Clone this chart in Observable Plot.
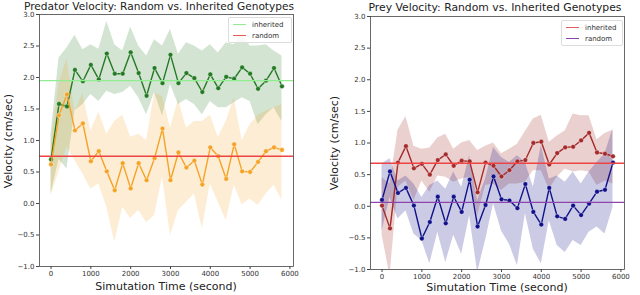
<!DOCTYPE html>
<html><head><meta charset="utf-8">
<script src="https://cdn.jsdelivr.net/npm/d3@7"></script>
<script src="https://cdn.jsdelivr.net/npm/@observablehq/plot@0.6"></script>
<style>
body{margin:0;background:#fff;font-family:"DejaVu Sans",sans-serif;}
#root{position:relative;width:640px;height:295px;overflow:hidden;}
.abs{position:absolute;white-space:nowrap;color:#222;line-height:1;}
.leg{position:absolute;border:1px solid #ddd;border-radius:2px;background:rgba(255,255,255,0.85);font-size:7px;color:#333;}
.leg div{display:flex;align-items:center;height:11px;}
.leg span.l{display:inline-block;width:13px;height:0;border-top:1.3px solid;margin:0 6px 0 4px;}
</style></head>
<body><div id="root"></div>
<script>
const time = [0,200,400,600,800,1000,1200,1400,1600,1800,2000,2200,2400,2600,2800,3000,3200,3400,3600,3800,4000,4200,4400,4600,4800,5000,5200,5400,5600,5800];

// Predator - inherited
const predInh = [0.70,1.58,1.54,2.12,1.94,2.20,1.97,2.38,2.06,2.06,2.40,2.07,1.71,2.15,1.91,2.36,1.91,2.07,1.99,1.77,2.05,1.83,2.01,1.98,2.16,2.06,1.82,1.95,2.15,1.86];
const predInhHi = [1.10,2.31,2.47,2.67,2.44,2.52,2.45,2.89,2.52,2.42,2.80,2.50,2.34,2.60,2.50,2.76,2.37,2.55,2.50,2.42,2.52,2.39,2.55,2.52,2.70,2.50,2.50,2.52,2.42,2.34];
const predInhLo = [0.15,0.70,0.55,1.47,1.57,1.73,1.62,1.78,1.73,1.76,1.86,1.68,1.41,1.76,1.39,1.89,1.57,1.65,1.57,1.41,1.62,1.52,1.52,1.60,1.68,1.62,1.25,1.41,1.52,1.30];
// Predator - random
const predRnd = [0.62,1.40,1.73,1.16,1.27,0.67,0.83,0.51,0.21,0.64,0.24,0.64,0.37,0.72,1.19,0.37,0.81,0.57,0.68,0.30,0.89,0.75,0.39,0.94,0.51,0.50,0.66,0.83,0.89,0.85];
const predRndHi = [0.95,1.90,2.30,1.45,1.75,1.15,1.45,1.10,1.30,1.40,1.05,1.10,1.00,1.75,1.70,1.20,1.65,1.20,1.30,1.30,1.40,1.05,1.30,1.68,1.00,1.25,1.40,1.47,1.52,1.57];
const predRndLo = [0.13,0.50,0.90,0.68,0.47,0.23,0.31,-0.06,-0.61,-0.06,-0.24,-0.11,-0.30,-0.19,0.42,-0.51,-0.11,0.02,0.15,-0.40,0.31,0.02,-0.27,0.29,-0.02,0.07,-0.03,0.15,0.29,0.05];
const predMeanInh = 1.95, predMeanRnd = 0.75;

// Prey - inherited
const preyInh = [0.01,-0.35,0.69,0.95,0.60,0.67,0.50,0.73,0.82,0.64,0.72,0.71,0.22,0.69,0.64,0.47,0.57,0.71,0.73,1.00,1.02,0.66,0.84,0.93,0.94,1.04,1.16,0.85,0.83,0.79];
const preyInhHi = [0.45,0.35,1.20,1.42,0.95,0.90,0.92,1.08,1.14,0.90,1.00,1.04,0.88,0.95,1.00,0.83,0.90,0.98,1.18,1.38,1.44,1.01,1.11,1.19,1.46,1.43,1.43,1.05,1.15,1.20];
const preyInhLo = [-0.45,-1.10,0.30,0.40,0.09,0.40,0.22,0.48,0.46,0.38,0.43,0.46,-0.15,0.33,0.35,0.25,0.35,0.35,0.38,0.56,0.56,0.27,0.46,0.59,0.54,0.56,0.54,0.33,0.40,0.35];
// Prey - random
const preyRnd = [0.10,0.55,0.21,0.29,0.01,-0.51,-0.25,0.15,-0.27,0.15,-0.09,0.42,-0.32,0.02,0.47,0.11,0.09,-0.03,0.35,-0.09,-0.29,0.29,-0.16,-0.20,0.01,-0.14,0.04,0.23,0.26,0.69];
const preyRndHi = [0.67,0.75,0.40,0.48,0.35,0.14,0.33,0.40,0.27,0.54,0.30,0.80,0.09,0.43,0.93,0.77,0.69,0.80,0.69,0.30,0.96,0.43,0.48,0.38,0.54,0.35,0.54,0.69,0.83,1.22];
const preyRndLo = [-0.39,0.14,-0.20,-0.07,-0.44,-0.54,-0.91,-0.41,-0.89,-0.46,-0.76,-0.15,-1.05,-0.54,0.04,-0.39,-0.60,-0.94,-0.12,-0.68,-0.91,-0.23,-0.62,-0.73,-0.54,-0.62,-0.41,-0.33,-0.44,-0.02];
const preyMeanInh = 0.68, preyMeanRnd = 0.06;

const xTicks = [0,1000,2000,3000,4000,5000,6000];
const yTicks = [-1.0,-0.5,0.0,0.5,1.0,1.5,2.0,2.5,3.0];

function rows(v, lo, hi){ return time.map((t,i)=>({t, v:v[i], lo:lo[i], hi:hi[i]})); }

function panel(opts){
  const {series, means, mt, mb, ml, mr} = opts;
  const marks = [];
  for (const s of series) {
    marks.push(Plot.areaY(s.data, {x:"t", y1:"lo", y2:"hi", fill:s.color, fillOpacity:s.op, clip:true}));
  }
  for (const s of series) {
    marks.push(Plot.lineY(s.data, {x:"t", y:"v", stroke:s.color, strokeWidth:1.4, clip:true}));
    marks.push(Plot.dot(s.data, {x:"t", y:"v", fill:s.color, r:2.4, stroke:"white", strokeWidth:0.4, clip:true}));
  }
  for (const m of means) marks.push(Plot.ruleY([m.v], {stroke:m.color, strokeWidth:1.3}));
  marks.push(Plot.frame({stroke:"#444", strokeWidth:0.8}));
  marks.push(Plot.axisX(xTicks, {tickSize:3, tickPadding:2, stroke:"#444", fill:"#333", tickFormat:d3.format("d"), label:null}));
  marks.push(Plot.axisY(yTicks, {tickSize:3, tickPadding:2, stroke:"#444", fill:"#333", tickFormat:d3.format(".1f"), label:null}));
  return Plot.plot({
    width:300, height:295, marginTop:mt, marginBottom:mb, marginLeft:ml, marginRight:mr,
    x:{domain:[-290,6090]}, y:{domain:[-1,3]},
    style:{fontFamily:"DejaVu Sans", fontSize:"7px", background:"transparent", overflow:"visible"},
    marks
  });
}

const root = document.getElementById("root");

const p1 = panel({
  mt:14, mb:29, ml:39, mr:7,
  series:[
    {data:rows(predInh,predInhLo,predInhHi), color:"#237a23", op:0.2},
    {data:rows(predRnd,predRndLo,predRndHi), color:"#f5a326", op:0.2}
  ],
  means:[{v:predMeanInh,color:"#90ee90"},{v:predMeanRnd,color:"#ee4444"}]
});
p1.style.position="absolute"; p1.style.left="0px"; p1.style.top="0px";
root.appendChild(p1);

const p2 = panel({
  mt:16, mb:26, ml:40, mr:6,
  series:[
    {data:rows(preyInh,preyInhLo,preyInhHi), color:"#a52a2a", op:0.22},
    {data:rows(preyRnd,preyRndLo,preyRndHi), color:"#10108a", op:0.22}
  ],
  means:[{v:preyMeanInh,color:"#ee4444"},{v:preyMeanRnd,color:"#8e44ad"}]
});
p2.style.position="absolute"; p2.style.left="330px"; p2.style.top="0px";
root.appendChild(p2);

function addText(txt, x, y, size, rot){
  const d = document.createElement("div");
  d.className="abs"; d.textContent=txt; d.style.fontSize=size+"px";
  d.style.left=x+"px"; d.style.top=y+"px";
  d.style.transform = "translate(-50%,-50%)" + (rot ? " rotate(-90deg)" : "");
  root.appendChild(d);
}
addText("Predator Velocity: Random vs. Inherited Genotypes", 159, 6, 10.6);
addText("Prey Velocity: Random vs. Inherited Genotypes", 495, 7.5, 10.8);
addText("Simutation Time (second)", 166, 286, 11);
addText("Simutation Time (second)", 497, 287, 11);
addText("Velocity (cm/sec)", 8, 141, 11, true);
addText("Velocity (cm/sec)", 334, 143, 11, true);

function addLegend(x, y, w, items){
  const l = document.createElement("div");
  l.className="leg"; l.style.left=x+"px"; l.style.top=y+"px"; l.style.width=w+"px";
  l.style.padding="1px 0";
  for (const it of items){
    const r = document.createElement("div");
    const s = document.createElement("span"); s.className="l"; s.style.borderColor=it.color;
    r.appendChild(s); r.appendChild(document.createTextNode(it.label));
    l.appendChild(r);
  }
  root.appendChild(l);
}
addLegend(228, 17, 62, [{label:"inherited",color:"#90ee90"},{label:"random",color:"#ee5555"}]);
addLegend(561, 20, 60, [{label:"inherited",color:"#e06060"},{label:"random",color:"#8e44ad"}]);
</script></body></html>
